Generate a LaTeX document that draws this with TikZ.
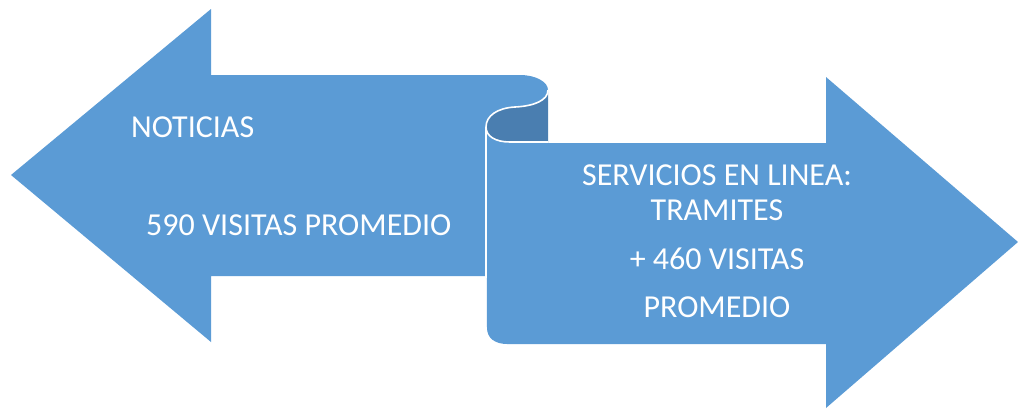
\documentclass[tikz,border=0pt]{standalone}
\usepackage{fontspec}
\setmainfont{Carlito}
\definecolor{arrowblue}{HTML}{5B9BD5}
\definecolor{curldark}{HTML}{4A7EB0}
\tikzset{
  shapefill/.style={fill=arrowblue, draw=none},
  edgeline/.style={draw=white, line width=1.6pt},
  lbl/.style={text=white, inner sep=0pt, font=\fontsize{32}{38}\selectfont}
}
\begin{document}
\begin{tikzpicture}[x=1pt,y=-1pt]
\useasboundingbox (0,0) rectangle (1018,408);
% left arrow
\path[shapefill] (11,175) -- (211,9) -- (211,75) -- (520,75)
  .. controls (536,75) and (548,82) .. (548,90)
  .. controls (548,100) and (535,106) .. (515,107)
  .. controls (497,108) and (486,116) .. (486,127)
  -- (486,276) -- (211,276) -- (211,342) -- cycle;
% right arrow
\path[shapefill] (486,127) .. controls (486,136) and (495,142) .. (510,142)
  -- (548,142) -- (548,143) -- (826,143) -- (826,77) -- (1018,242)
  -- (826,408) -- (826,344) -- (507,344)
  .. controls (495,344) and (487,338) .. (487,328) -- cycle;
% curl interior
\path[fill=curldark] (548,90)
  .. controls (548,100) and (535,106) .. (515,107)
  .. controls (497,108) and (486,116) .. (486,127)
  .. controls (486,136) and (495,142) .. (510,142)
  -- (548,142) -- cycle;
% white edges
\draw[edgeline] (548,90)
  .. controls (548,100) and (535,106) .. (515,107)
  .. controls (497,108) and (486,116) .. (486,127)
  .. controls (486,136) and (495,142) .. (510,142) -- (548,142);
\draw[edgeline] (486,127) -- (486,278);
% texts
\node[lbl, anchor=base west] (n1) at (131,137) {NOTICIAS};
\node[lbl, anchor=base west] (n2) at (146,235) {590 VISITAS PROMEDIO};
\node[lbl, anchor=base] (r1) at (717,185) {SERVICIOS EN LINEA:};
\node[lbl, anchor=base] (r2) at (717,220) {TRAMITES};
\node[lbl, anchor=base] (r3) at (717,269) {+ 460 VISITAS};
\node[lbl, anchor=base] (r4) at (717,317) {PROMEDIO};
\end{tikzpicture}
\end{document}
